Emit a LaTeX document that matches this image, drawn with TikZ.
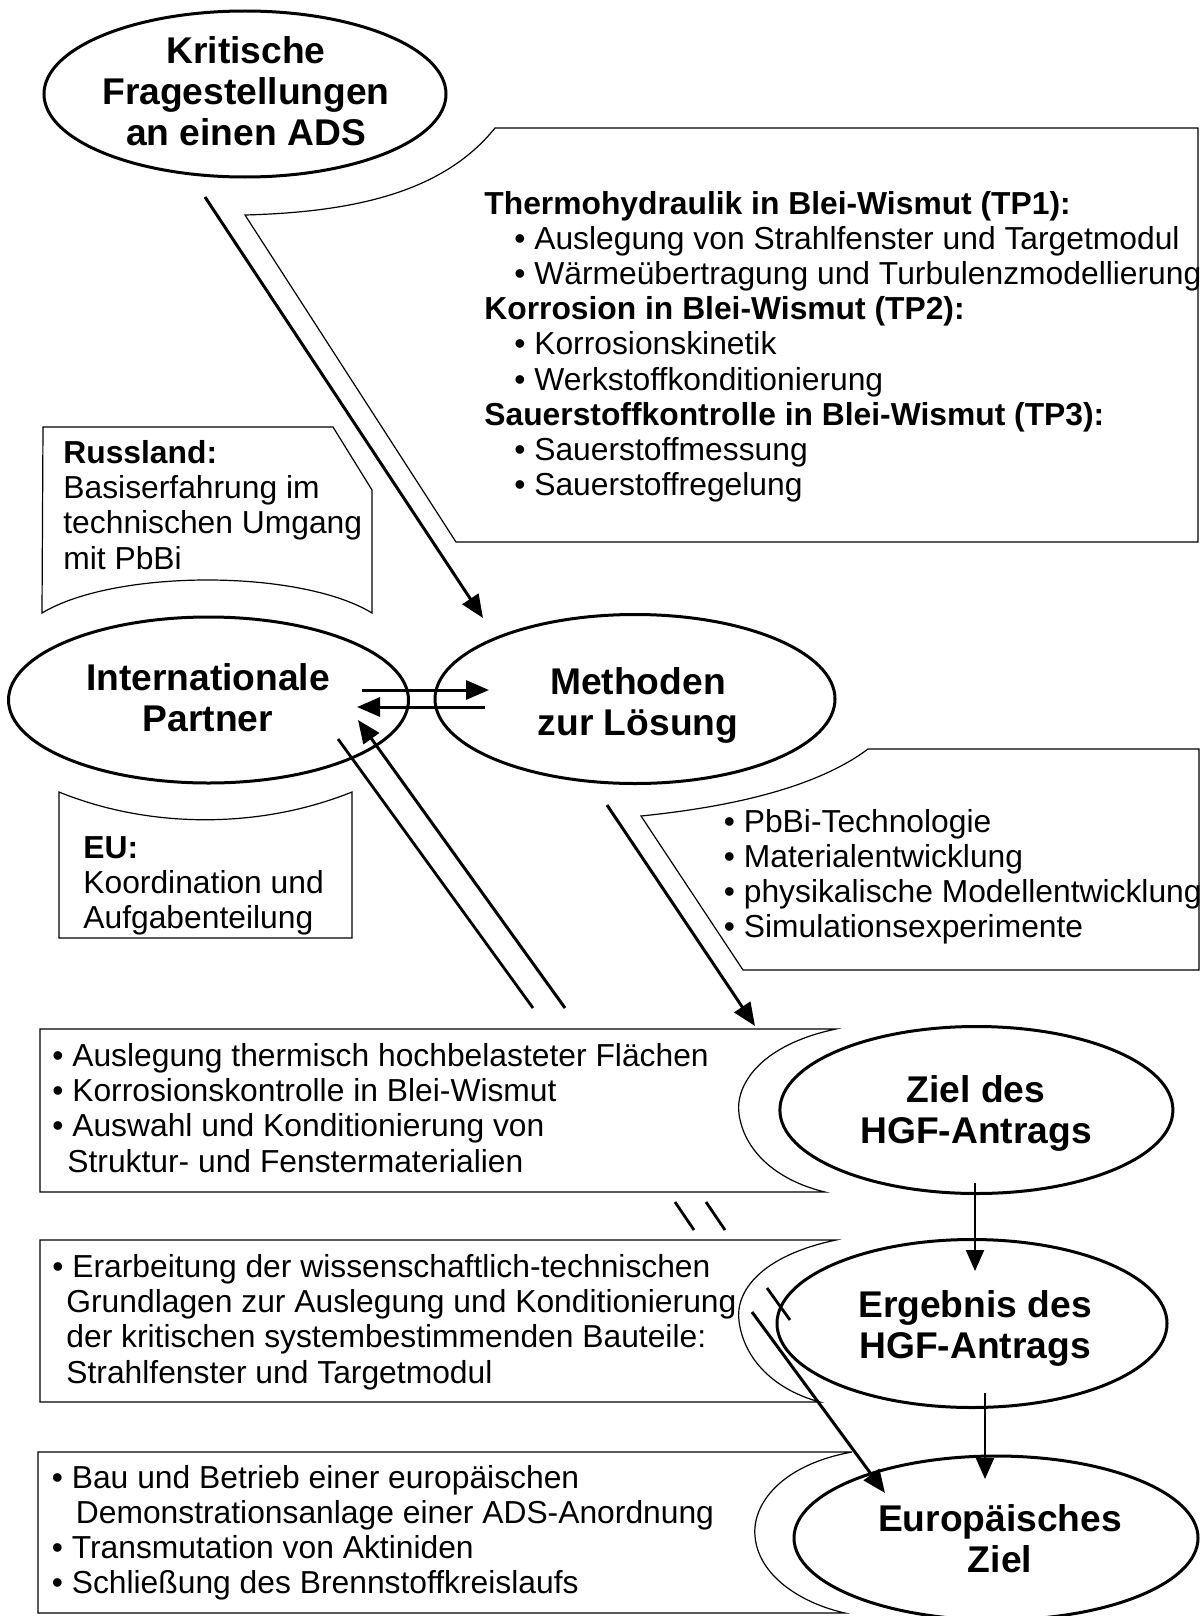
\documentclass[tikz,border=0pt]{standalone}
\usepackage{fontspec}
\setmainfont{Liberation Sans}
\usetikzlibrary{shapes.geometric, arrows.meta}

% rows of text; the baseline of the box is the baseline of the first row
\newcommand{\textrows}[1]{\vtop{\halign{##\hfil\cr #1\crcr}}}
\newcommand{\centerrows}[1]{\vtop{\halign{\hfil##\hfil\cr #1\crcr}}}
\newcommand{\bul}{\textbullet\ }

\begin{document}
\begin{tikzpicture}[
  x=0.5pt, y=-0.5pt,
  goal/.style={ellipse, draw, line width=1.5pt, inner sep=0pt},
  goaltext/.style={anchor=base, inner sep=0pt, font=\fontsize{18.6}{20.5}\selectfont\bfseries},
  note/.style={anchor=base west, inner sep=0pt, font=\fontsize{15.9}{17.6}\selectfont},
  frame/.style={line width=0.6pt},
  arr/.style={line width=1.5pt, -{Triangle[length=11.5pt, width=9.5pt]}},
  thinarr/.style={line width=1.1pt, -{Triangle[length=10.5pt, width=9pt]}},
  bar/.style={line width=1.4pt}
]

\useasboundingbox[fill=white] (0,0) rectangle (1202,1616);

% -------------------------
% CALLOUT FRAMES
% -------------------------

% work packages (pointer towards the question ellipse)
\draw[frame] (495,128) -- (1198,128) -- (1198,542) -- (456,542) -- (245,215)
  .. controls (360,212) and (445,190) .. (495,128) -- cycle;

% partners
\draw[frame] (43,427) -- (333,427) -- (372,490) -- (372,613)
  .. controls (300,569) and (115,569) .. (42,613) -- cycle;
\draw[frame] (59,792) .. controls (150,829) and (260,829) .. (352,792)
  -- (352,938) -- (59,938) -- cycle;

% methods
\draw[frame] (868,749) -- (1199,749) -- (1199,970) -- (743,970) -- (641,816)
  .. controls (740,806) and (820,785) .. (868,749) -- cycle;

% the three result boxes, hollowed out on the right
\draw[frame] (40,1029) -- (836,1029) .. controls (760,1045) and (735,1085) .. (739,1114)
  .. controls (744,1150) and (775,1180) .. (825,1192) -- (40,1192) -- cycle;
\draw[frame] (40,1240) -- (836,1240) .. controls (760,1256) and (735,1292) .. (739,1321)
  .. controls (744,1360) and (775,1390) .. (820,1402) -- (40,1402) -- cycle;
\draw[frame] (38,1452) -- (852,1452) .. controls (780,1465) and (752,1505) .. (755,1536)
  .. controls (758,1575) and (800,1603) .. (845,1613) -- (38,1613) -- cycle;

% -------------------------
% TEXT BLOCKS
% -------------------------

\node[note] (tptext) at (484,214) {\textrows{%
  \textbf{Thermohydraulik in Blei-Wismut (TP1):}\cr
  \hspace*{15pt}\bul Auslegung von Strahlfenster und Targetmodul\cr
  \hspace*{15pt}\bul Wärmeübertragung und Turbulenzmodellierung\cr
  \textbf{Korrosion in Blei-Wismut (TP2):}\cr
  \hspace*{15pt}\bul Korrosionskinetik\cr
  \hspace*{15pt}\bul Werkstoffkonditionierung\cr
  \textbf{Sauerstoffkontrolle in Blei-Wismut (TP3):}\cr
  \hspace*{15pt}\bul Sauerstoffmessung\cr
  \hspace*{15pt}\bul Sauerstoffregelung}};

\node[note] (russland) at (63,463.5) {\textrows{%
  \textbf{Russland:}\cr
  Basiserfahrung im\cr
  technischen Umgang\cr
  mit PbBi}};

\node[note] (eu) at (83,858) {\textrows{%
  \textbf{EU:}\cr
  Koordination und\cr
  Aufgabenteilung}};

\node[note] (methtext) at (723.5,832) {\textrows{%
  \bul PbBi-Technologie\cr
  \bul Materialentwicklung\cr
  \bul physikalische Modellentwicklung\cr
  \bul Simulationsexperimente}};

\node[note] (auslegung) at (52,1066.5) {\textrows{%
  \bul Auslegung thermisch hochbelasteter Flächen\cr
  \bul Korrosionskontrolle in Blei-Wismut\cr
  \bul Auswahl und Konditionierung von\cr
  \hspace*{7.5pt}Struktur- und Fenstermaterialien}};

\node[note] (grundlagen) at (52,1277.5) {\textrows{%
  \bul Erarbeitung der wissenschaftlich-technischen\cr
  \hspace*{7pt}Grundlagen zur Auslegung und Konditionierung\cr
  \hspace*{7pt}der kritischen systembestimmenden Bauteile:\cr
  \hspace*{7pt}Strahlfenster und Targetmodul}};

\node[note] (europatext) at (51.5,1488) {\textrows{%
  \bul Bau und Betrieb einer europäischen\cr
  \hspace*{12pt}Demonstrationsanlage einer ADS-Anordnung\cr
  \bul Transmutation von Aktiniden\cr
  \bul Schließung des Brennstoffkreislaufs}};

% -------------------------
% ELLIPSES
% -------------------------

\node[goal, minimum width=201pt, minimum height=83pt] (kritisch) at (245,94) {};
\node[goal, minimum width=200pt, minimum height=83pt] (intl) at (208.5,700) {};
\node[goal, minimum width=200pt, minimum height=84.5pt] (methoden) at (635,699) {};
\node[goal, minimum width=196.5pt, minimum height=83.5pt] (ziel) at (976.4,1110) {};
\node[goal, minimum width=195pt, minimum height=84pt] (ergebnis) at (972,1323.5) {};
\node[goal, minimum width=202pt, minimum height=82pt] (europa) at (996,1538) {};

\node[goaltext] (kritisch-text) at (246,64) {\centerrows{Kritische\cr Fragestellungen\cr an einen ADS}};
\node[goaltext] (intl-text) at (208,690) {\centerrows{Internationale\cr Partner}};
\node[goaltext] (methoden-text) at (638,694.5) {\centerrows{Methoden\cr zur Lösung}};
\node[goaltext] (ziel-text) at (976,1102.5) {\centerrows{Ziel des\cr HGF-Antrags}};
\node[goaltext] (ergebnis-text) at (975,1317.5) {\centerrows{Ergebnis des\cr HGF-Antrags}};
\node[goaltext] (europa-text) at (1000,1531.5) {\centerrows{Europäisches\cr Ziel}};

% -------------------------
% ARROWS
% -------------------------

\coordinate (k-out) at (205,197);
\coordinate (m-in) at (483,618);
\draw[arr] (k-out) -- (m-in);

% partners <-> methods
\coordinate (im-from) at (362,690);
\coordinate (im-to) at (489,690);
\coordinate (mi-from) at (485,707);
\coordinate (mi-to) at (357,707);
\draw[arr] (im-from) -- (im-to);
\draw[arr] (mi-from) -- (mi-to);

% partners <-> results (the pair runs down behind the boxes)
\coordinate (i-down) at (338,739);
\coordinate (i-downend) at (533,1008);
\coordinate (i-upstart) at (565,1008);
\coordinate (i-up) at (358,720);
\draw[bar] (i-down) -- (i-downend);
\draw[arr] (i-upstart) -- (i-up);
\draw[bar] (675,1202) -- (694,1230);
\draw[bar] (706,1202) -- (725,1230);

\coordinate (m-out) at (607,805);
\coordinate (z-in) at (755,1026);
\draw[arr] (m-out) -- (z-in);

% chain of goals
\coordinate (z-out) at (975,1183);
\coordinate (e-in) at (975,1271);
\coordinate (e-out) at (985,1393);
\coordinate (eu-in) at (985,1479);
\draw[thinarr] (z-out) -- (e-in);
\draw[thinarr] (e-out) -- (eu-in);

\coordinate (g-out) at (752,1312);
\coordinate (eu-side) at (885,1493);
\draw[arr] (g-out) -- (eu-side);
\draw[bar] (767,1288) -- (790,1320);

\end{tikzpicture}
\end{document}
